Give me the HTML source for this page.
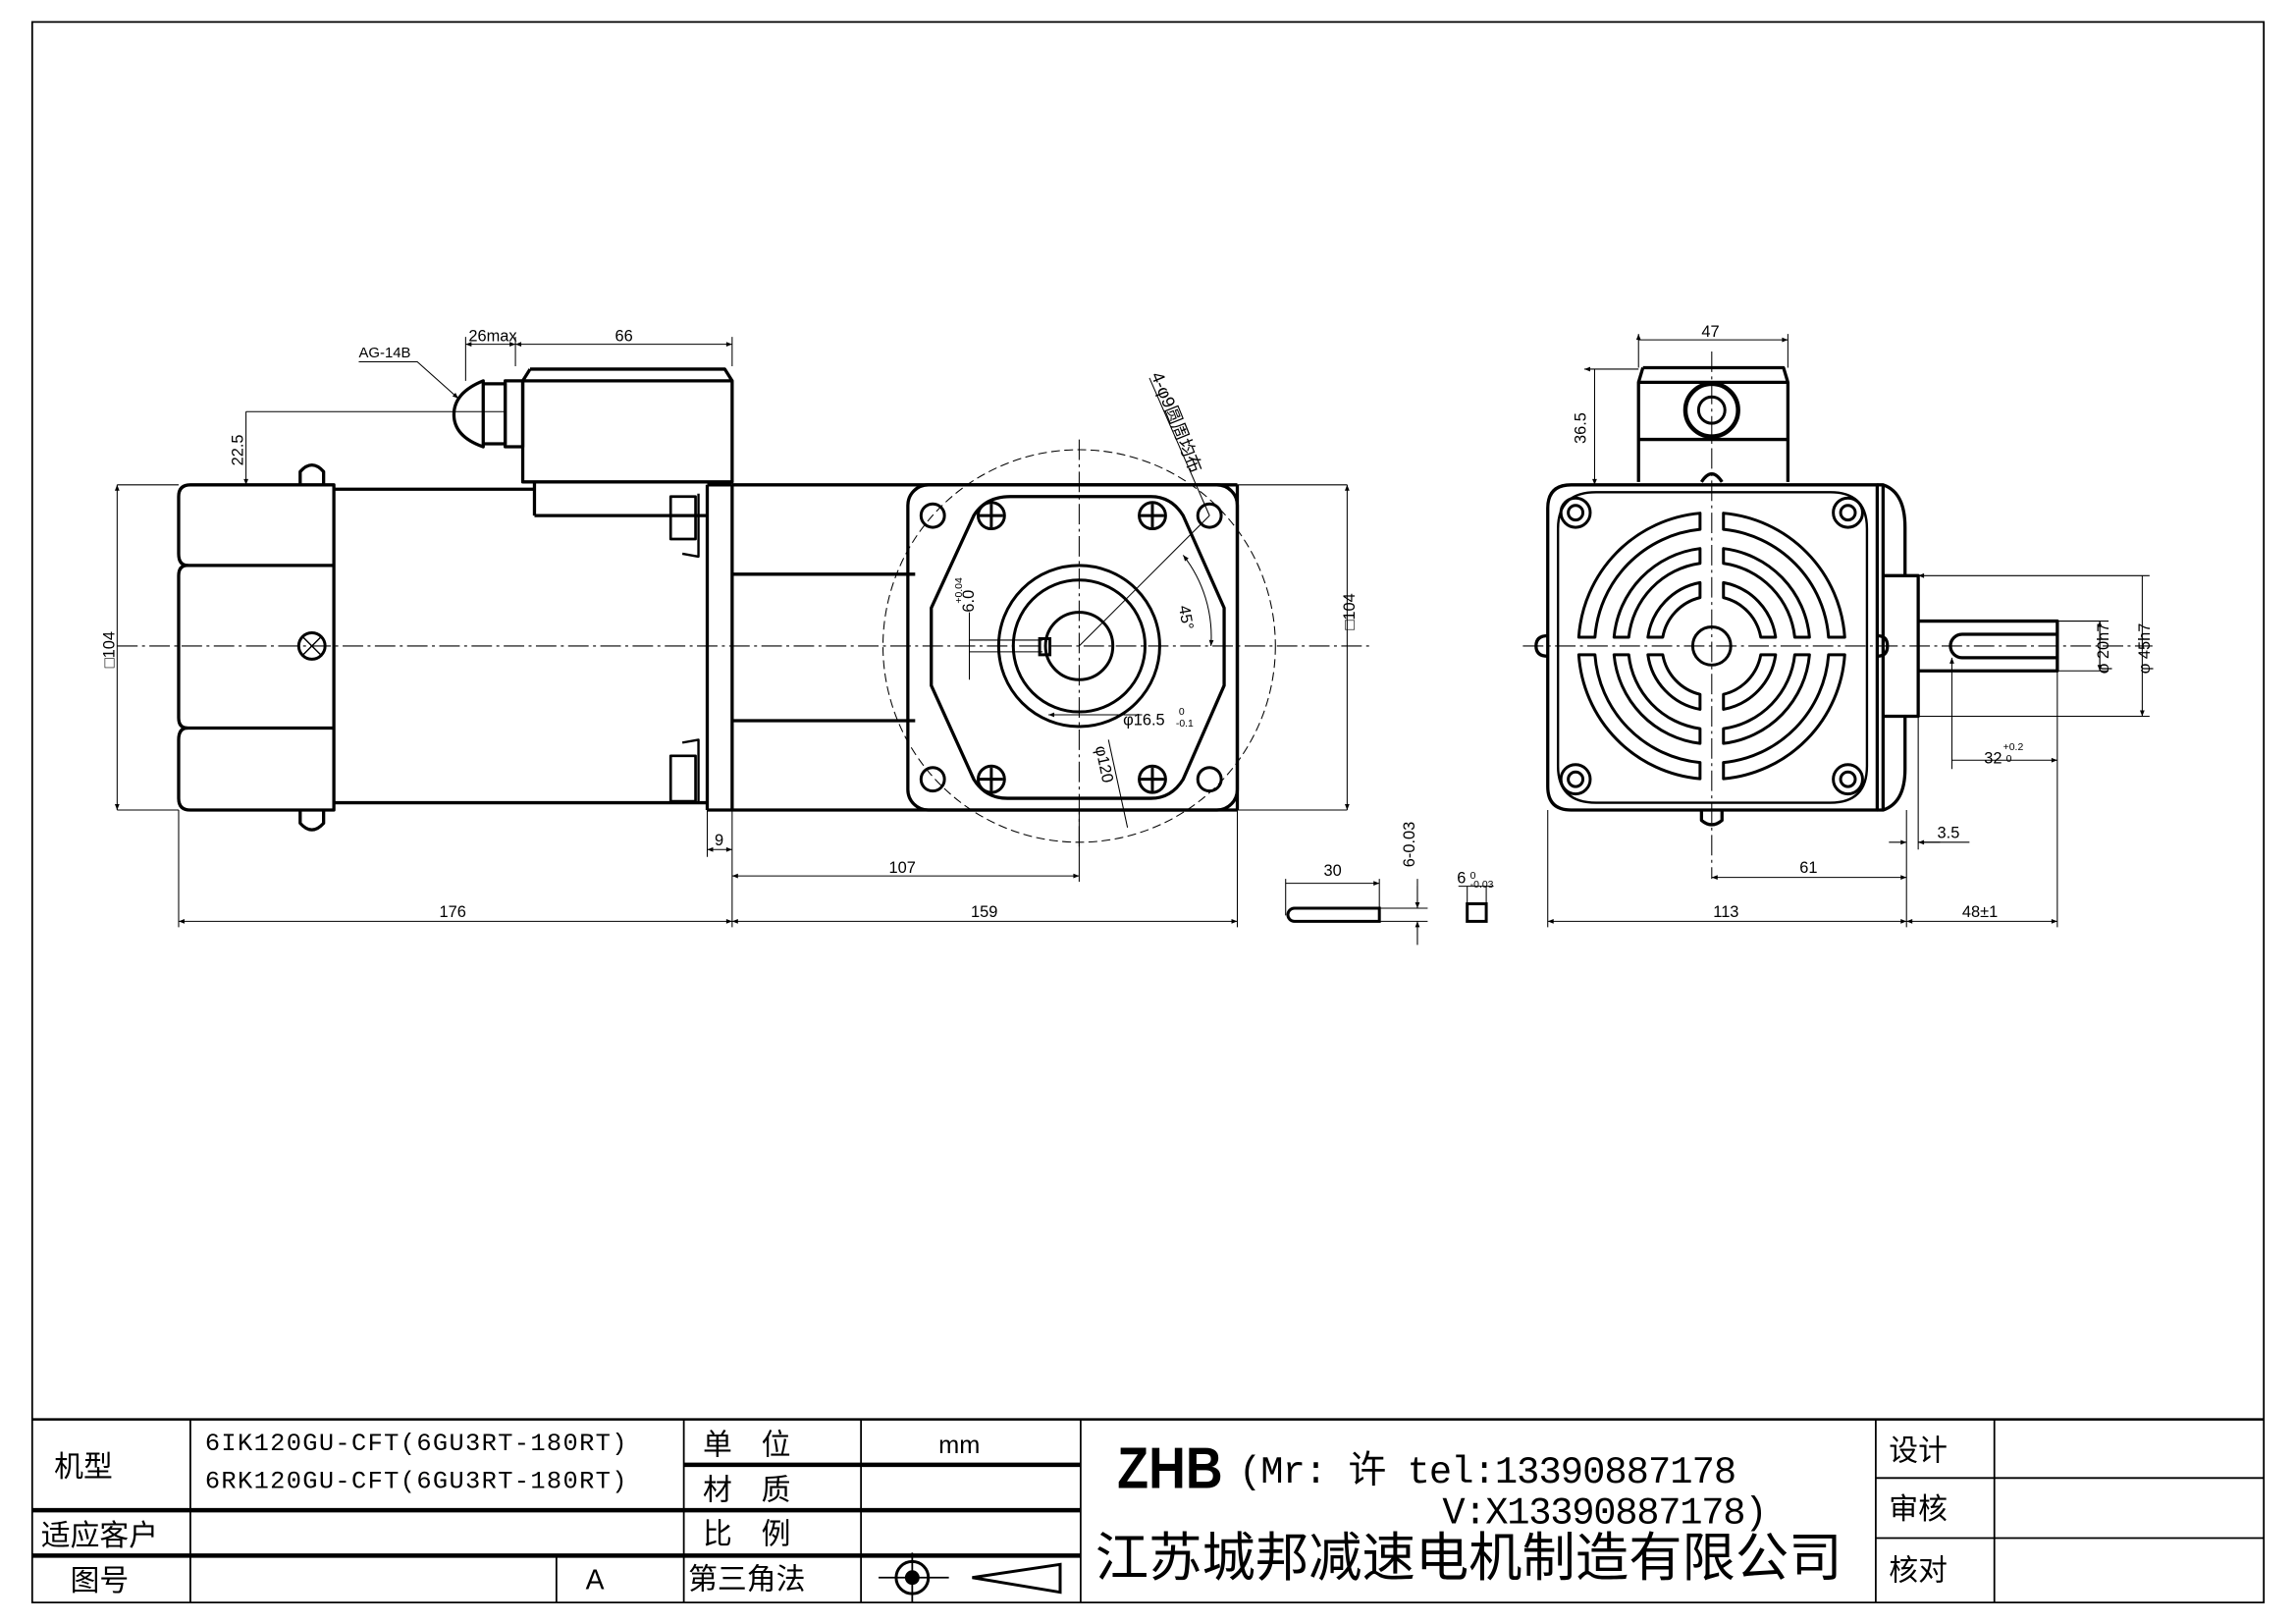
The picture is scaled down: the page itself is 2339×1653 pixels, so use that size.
<!DOCTYPE html>
<html><head><meta charset="utf-8"><style>
html,body{margin:0;padding:0;background:#fff;}
svg{display:block;}
text{font-family:"Liberation Sans","Noto Sans CJK SC",sans-serif;fill:#000;}
</style></head><body>
<svg id="s" width="2339" height="1653" viewBox="0 0 1568 1108" preserveAspectRatio="none" xmlns="http://www.w3.org/2000/svg">
<defs>
<marker id="a" viewBox="0 0 10 10" refX="10" refY="5" markerWidth="7" markerHeight="4" orient="auto-start-reverse" markerUnits="userSpaceOnUse"><path d="M0,1 L10,5 L0,9 Z" fill="#000"/></marker>
</defs>
<rect width="1568" height="1108" fill="#fff"/>
<!-- frame -->
<g fill="none" stroke="#000" stroke-width="1.2">
<path d="M22 15 H1546 V1094 H22 Z"/>
</g>
<!-- title block -->
<g stroke="#000" fill="none">
<path d="M22 969 H1546" stroke-width="1.6"/>
<path d="M22 1031 H738 M22 1062 H738 M467 1000 H738" stroke-width="3"/>
<path d="M130 969 V1094 M380 1062 V1094 M467 969 V1094 M588 969 V1094 M738 969 V1094 M1281 969 V1094 M1362 969 V1094 M1281 1009 H1546 M1281 1050 H1546" stroke-width="1.2"/>
</g>
<g font-size="20">
<text x="37" y="1008">机型</text>
<text x="28" y="1055">适应客户</text>
<text x="48" y="1086">图号</text>
<text x="480" y="993">单　位</text>
<text x="480" y="1024">材　质</text>
<text x="480" y="1054">比　例</text>
<text x="470" y="1085">第三角法</text>
<text x="1290" y="997">设计</text>
<text x="1290" y="1037">审核</text>
<text x="1290" y="1079">核对</text>
</g>
<g font-size="17" font-family="Liberation Mono">
<text x="140" y="990" textLength="288" style="font-family:'Liberation Mono',monospace">6IK120GU-CFT(6GU3RT-180RT)</text>
<text x="140" y="1016" textLength="288" style="font-family:'Liberation Mono',monospace">6RK120GU-CFT(6GU3RT-180RT)</text>
</g>
<text x="641" y="992" font-size="17">mm</text>
<text x="400" y="1085" font-size="19">A</text>
<!-- projection symbol -->
<g stroke="#000" fill="none" stroke-width="2">
<circle cx="623" cy="1077" r="11"/><circle cx="623" cy="1077" r="4" fill="#000"/>
<path d="M600 1077 H648 M623 1060 V1094" stroke-width="1.2"/>
<path d="M664 1077 L724 1068 V1087 Z"/>
</g>
<text x="763" y="1016" font-size="40" font-weight="bold" textLength="72" lengthAdjust="spacingAndGlyphs">ZHB</text>
<text x="846" y="1012" font-size="26" style="font-family:'Liberation Mono','Noto Sans CJK SC',monospace" textLength="340">(Mr: 许 tel:13390887178</text>
<text x="985" y="1040" font-size="26" style="font-family:'Liberation Mono',monospace" textLength="222">V:X13390887178)</text>
<text x="748" y="1076" font-size="36" textLength="510" lengthAdjust="spacingAndGlyphs">江苏城邦减速电机制造有限公司</text>

<!-- ===== LEFT VIEW ===== -->
<g fill="none" stroke="#000" stroke-width="2.2" stroke-linejoin="round">
<!-- back cover -->
<path d="M130 331 H228 V553 H130 Q122 553 122 545 V505 Q122 497 128 497 Q122 497 122 490 V393 Q122 386 128 386 Q122 386 122 378 V339 Q122 331 130 331 Z"/>
<path d="M124 386 H228 M124 497 H228"/>
<!-- feet bumps -->
<path d="M205 331 V322 Q213 313 221 322 V331 M205 553 V562 Q213 571 221 562 V553"/>
<!-- motor body -->
<path d="M228 334 H365 M228 548 H483 M365 352 H483 M365 329 V352"/>
<!-- flange -->
<path d="M483 331 V553 M500 331 V553 M483 331 H500 M483 553 H500"/>
<path d="M458 339 H475 V368 H458 Z M458 516 H475 V547 H458 Z" stroke-width="1.8"/>
<path d="M477 337 V380 L466 378 M477 548 V505 L466 507" stroke-width="1.6"/>
<!-- gearbox -->
<path d="M500 331 H845 M500 553 H845 M500 392 H625 M500 492 H625 M845 331 V553"/>
<!-- plate -->
<rect x="620" y="331" width="225" height="222" rx="14"/>
<path d="M690 339 H786 Q800 339 808 352 L836 415 V468 L808 532 Q800 545 786 545 H688 Q673 545 665 532 L636 468 V415 L665 352 Q673 339 690 339 Z"/>
<!-- terminal box -->
<path d="M357 260 V329 H500 V260 Z M362 252 H495 L500 260 M362 252 L357 260"/>
<path d="M345 260 H357 V305 H345 Z"/>
<path d="M330 260 Q310 268 310 283 Q310 298 330 305 Z" />
<path d="M330 262 H345 V303 H330"/>
</g>
<g fill="none" stroke="#000" stroke-width="2">
<circle cx="637" cy="352" r="8"/><circle cx="826" cy="352" r="8"/><circle cx="637" cy="532" r="8"/><circle cx="826" cy="532" r="8"/>
<circle cx="677" cy="352" r="9"/><circle cx="787" cy="352" r="9"/><circle cx="677" cy="532" r="9"/><circle cx="787" cy="532" r="9"/>
<path d="M677 344 V360 M669 352 H685 M787 344 V360 M779 352 H795 M677 524 V540 M669 532 H685 M787 524 V540 M779 532 H795"/>
<circle cx="737" cy="441" r="55"/><circle cx="737" cy="441" r="45"/><circle cx="737" cy="441" r="23"/>
<rect x="710" y="436" width="7" height="11"/>
<circle cx="213" cy="441" r="9"/>
<path d="M207 435 L219 447 M219 435 L207 447" stroke-width="1"/>
</g>
<g fill="none" stroke="#000" stroke-width="0.7">
<circle cx="737" cy="441" r="134" stroke-dasharray="6 3"/>
<path d="M80 441 H935 M737 300 V580" stroke-dasharray="14 3 2 3"/>
<path d="M845 331 H920 M845 553 H920"/>
<path d="M80 331 H122 M80 553 H122"/>
<!-- dims -->
<path d="M80 331 V553" marker-start="url(#a)" marker-end="url(#a)"/>
<path d="M920 331 V553" marker-start="url(#a)" marker-end="url(#a)"/>
<path d="M168 281 V331" marker-end="url(#a)"/>
<path d="M168 281 H345"/>
<path d="M122 553 V633 M500 553 V633 M845 553 V633 M483 553 V585 M737 553 V602"/>
<path d="M122 629 H500" marker-start="url(#a)" marker-end="url(#a)"/>
<path d="M500 629 H845" marker-start="url(#a)" marker-end="url(#a)"/>
<path d="M500 598 H737" marker-start="url(#a)" marker-end="url(#a)"/>
<path d="M483 580 H500" marker-start="url(#a)" marker-end="url(#a)"/>
<path d="M318 230 V260 M352 230 V250 M500 230 V250"/>
<path d="M318 235 H352" marker-start="url(#a)" marker-end="url(#a)"/>
<path d="M352 235 H500" marker-start="url(#a)" marker-end="url(#a)"/>
<path d="M245 247 H285 L313 272" marker-end="url(#a)"/>
<path d="M785 258 L826 352"/>
<path d="M737 441 L826 352"/>
<path d="M808 379 A90 90 0 0 1 827 441" marker-start="url(#a)" marker-end="url(#a)"/>
<path d="M757 505 L770 565"/>
<path d="M716 488 H780" marker-start="url(#a)"/>
<path d="M662 418 V464 M662 437 H712 M662 445 H712"/>
</g>
<g font-size="11">
<text x="0" y="0" transform="translate(78,456) rotate(-90)">□104</text>
<text x="0" y="0" transform="translate(925,430) rotate(-90)">□104</text>
<text x="0" y="0" transform="translate(166,318) rotate(-90)">22.5</text>
<text x="300" y="626">176</text>
<text x="663" y="626">159</text>
<text x="607" y="596">107</text>
<text x="488" y="577">9</text>
<text x="320" y="233">26max</text>
<text x="420" y="233">66</text>
<text x="245" y="244" font-size="10">AG-14B</text>
<text x="0" y="0" transform="translate(805,414) rotate(80)">45°</text>
<text x="767" y="495">φ16.5</text><text x="805" y="488" font-size="7">0</text><text x="803" y="496" font-size="7">-0.1</text>
<text x="0" y="0" transform="translate(748,510) rotate(78)">φ120</text>
<text x="0" y="0" transform="translate(665,418) rotate(-90)">6.0</text>
<text x="0" y="0" transform="translate(657,412) rotate(-90)" font-size="7">+0.04</text>
<text x="0" y="0" transform="translate(786,256) rotate(68)" font-size="12">4-φ9圆周均布</text>
</g>

<!-- key -->
<g fill="none" stroke="#000">
<path d="M884 620 H942 V629 H884 A4.5 4.5 0 0 1 884 620 Z" stroke-width="2"/>
<rect x="1002" y="617" width="13" height="12" stroke-width="2"/>
<g stroke-width="0.7">
<path d="M878 600 V625 M942 600 V620 M878 603 H942" marker-end="url(#a)"/>
<path d="M942 620 H975 M942 629 H975 M968 600 V620 M968 629 V645" />
<path d="M968 605 V620" marker-end="url(#a)"/><path d="M968 645 V629" marker-end="url(#a)"/>
<path d="M996 605 H1020 M1002 605 V617 M1015 605 V617"/>
</g></g>
<g font-size="11">
<text x="904" y="598">30</text>
<text x="0" y="0" transform="translate(966,592) rotate(-90)">6-0.03</text>
<text x="995" y="603">6</text><text x="1004" y="600" font-size="7">0</text><text x="1004" y="606" font-size="7">-0.03</text>
</g>

<!-- ===== RIGHT VIEW ===== -->
<g fill="none" stroke="#000" stroke-width="2.2" stroke-linejoin="round">
<path d="M1073 331 H1282 V553 H1073 Q1057 553 1057 537 V347 Q1057 331 1073 331 Z"/>
<path d="M1090 336 H1250 Q1275 336 1275 361 V523 Q1275 548 1250 548 H1090 Q1064 548 1064 523 V361 Q1064 336 1090 336 Z" stroke-width="1.6"/>
<path d="M1282 331 H1286 Q1301 336 1301 360 V393 H1286 M1286 489 H1301 V525 Q1301 548 1286 553 H1282 M1286 331 V553"/>
<path d="M1301 393 H1310 V489 H1301"/>
<path d="M1310 424 H1405 V458 H1310"/>
<path d="M1405 433 H1340 A8 8 0 0 0 1340 449 H1405"/>
<path d="M1119 329 V261 H1221 V329 M1119 300 H1221 M1122 251 H1218 L1221 261 M1122 251 L1119 261"/>
<path d="M1162 329 Q1169 318 1176 329 M1162 553 V560 Q1169 566 1176 560 V553"/>
<path d="M1057 434 Q1049 434 1049 441 Q1049 448 1057 448 M1282 434 Q1289 434 1289 441 Q1289 448 1282 448"/>
</g>
<g fill="none" stroke="#000" stroke-width="2">
<circle cx="1169" cy="280" r="18" stroke-width="3"/><circle cx="1169" cy="280" r="9"/>
<circle cx="1169" cy="441" r="13"/>
<circle cx="1076" cy="350" r="10"/><circle cx="1262" cy="350" r="10"/><circle cx="1076" cy="532" r="10"/><circle cx="1262" cy="532" r="10"/>
<circle cx="1076" cy="350" r="5"/><circle cx="1262" cy="350" r="5"/><circle cx="1076" cy="532" r="5"/><circle cx="1262" cy="532" r="5"/>
<g id="grille"></g>
</g>
<g fill="none" stroke="#000" stroke-width="0.7">
<path d="M1040 441 H1470 M1169 240 V600" stroke-dasharray="14 3 2 3"/>
<path d="M1119 228 V251 M1221 228 V251 M1119 232 H1221" marker-start="url(#a)" marker-end="url(#a)"/>
<path d="M1082 252 H1119 M1089 252 V331" marker-start="url(#a)" marker-end="url(#a)"/>
<path d="M1405 424 H1440 M1405 458 H1440 M1434 424 V458" />
<path d="M1434 424 V458" marker-start="url(#a)" marker-end="url(#a)"/>
<path d="M1310 393 H1468 M1310 489 H1468 M1463 393 V489" marker-start="url(#a)" marker-end="url(#a)"/>
<path d="M1333 449 V525 M1405 458 V633 M1333 519 H1405" marker-start="url(#a)" marker-end="url(#a)"/>
<path d="M1302 553 V633 M1310 489 V580 M1057 553 V633"/>
<path d="M1290 575 H1302" marker-end="url(#a)"/><path d="M1325 575 H1310" marker-end="url(#a)"/><path d="M1310 575 H1345"/>
<path d="M1169 599 H1302" marker-start="url(#a)" marker-end="url(#a)"/>
<path d="M1057 629 H1302" marker-start="url(#a)" marker-end="url(#a)"/>
<path d="M1302 629 H1405" marker-start="url(#a)" marker-end="url(#a)"/>
</g>
<g font-size="11">
<text x="1162" y="230">47</text>
<text x="0" y="0" transform="translate(1083,303) rotate(-90)">36.5</text>
<text x="0" y="0" transform="translate(1440,460) rotate(-90)">φ 20h7</text>
<text x="0" y="0" transform="translate(1468,460) rotate(-90)">φ 45h7</text>
<text x="1355" y="521">32</text><text x="1368" y="512" font-size="7">+0.2</text><text x="1370" y="520" font-size="7">0</text>
<text x="1323" y="572">3.5</text>
<text x="1229" y="596">61</text>
<text x="1170" y="626">113</text>
<text x="1340" y="626">48±1</text>
</g>
</svg>
<script>
(function(){
var g=document.getElementById('grille'),cx=1169,cy=441,NS='http://www.w3.org/2000/svg';
var rings=[[34,44],[57,67],[80,91]];
var q=[[1,-1],[-1,-1],[1,1],[-1,1]];
rings.forEach(function(r){
 q.forEach(function(s){
  var gx=8,gy=6,ri=r[0],ro=r[1];
  function pt(rr,a){return [cx+s[0]*rr*Math.cos(a),cy+s[1]*rr*Math.sin(a)];}
  var a0o=Math.asin(gy/ro),a1o=Math.acos(gx/ro),a0i=Math.asin(gy/ri),a1i=Math.acos(gx/ri);
  var p1=pt(ro,a0o),p2=pt(ro,a1o),p3=pt(ri,a1i),p4=pt(ri,a0i);
  var sw=(s[0]*s[1]<0)?0:1;
  var d='M'+p1+' A'+ro+' '+ro+' 0 0 '+sw+' '+p2+' L'+p3+' A'+ri+' '+ri+' 0 0 '+(1-sw)+' '+p4+' Z';
  var p=document.createElementNS(NS,'path');p.setAttribute('d',d);p.setAttribute('stroke-linejoin','round');g.appendChild(p);
 });
});
})();
</script>
</body></html>
